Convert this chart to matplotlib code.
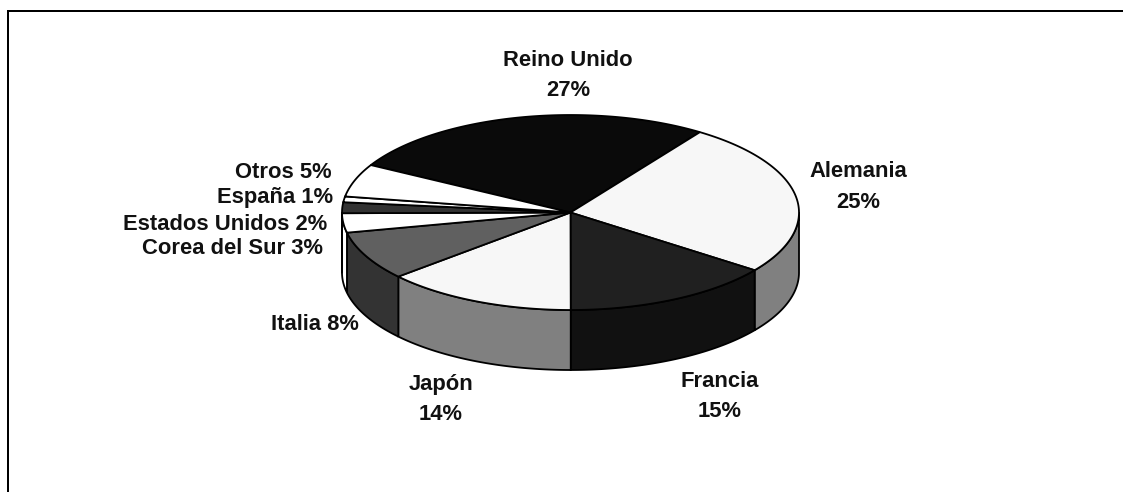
import numpy as np
import matplotlib
matplotlib.use('Agg')
import matplotlib.pyplot as plt
from matplotlib.patches import Polygon

# --- DATA ---
paises = ['Reino Unido', 'Alemania', 'Francia', 'Japón', 'Italia',
          'Corea del Sur', 'Estados Unidos', 'España', 'Otros']
valores = [26.5, 25.5, 14.9, 13.6, 8.1, 3.2, 1.8, 0.95, 5.45]
etiquetas = ['Reino Unido\n27%', 'Alemania\n25%', 'Francia\n15%', 'Japón\n14%', 'Italia 8%',
             'Corea del Sur 3%', 'Estados Unidos 2%', 'España 1%', 'Otros 5%']
colores_top = ['#0a0a0a', '#f7f7f7', '#202020', '#f7f7f7', '#606060',
               '#ffffff', '#333333', '#ffffff', '#ffffff']
colores_lado = ['#0a0a0a', '#808080', '#111111', '#808080', '#333333',
                '#ffffff', '#333333', '#ffffff', '#ffffff']

# label anchors in picture pixels (centre x, centre y)
pos_etiquetas = [(568, 75.5), (858, 187), (720, 396.5), (441, 399.5), (315, 325),
                 (233, 249), (225, 225), (275.5, 198), (283.5, 173)]

# --- LAYOUT (pixels) ---
W, H = 1123, 492
CX, CY = 570.5, 212.5
RX, RY = 228.5, 97.5
DEPTH = 60
START = 150.9  # angle where Reino Unido begins, clockwise from there

fig = plt.figure(figsize=(W / 100, H / 100), dpi=100)
ax = fig.add_axes([0, 0, 1, 1])
ax.set_xlim(0, W)
ax.set_ylim(H, 0)
ax.axis('off')

# chart frame: only left and top sides are inside the picture
ax.plot([8, 8, W], [H, 11, 11], color='black', lw=1.44, solid_joinstyle='miter', zorder=1)


def elipse(th, dy=0):
    th = np.radians(th)
    return np.column_stack([CX + RX * np.cos(th), CY + dy - RY * np.sin(th)])


fracs = np.array(valores) / sum(valores)
fin = START - np.cumsum(fracs) * 360
ini = np.r_[START, fin[:-1]]

# side wall first, only the part of each slice facing the viewer (180..360 deg)
for a, b, col in zip(ini, fin, colores_lado):
    lo, hi = b % 360, (b % 360) + (a - b)
    lo2, hi2 = max(lo, 180), min(hi, 360)
    if hi2 <= lo2:
        continue
    th = np.linspace(lo2, hi2, 80)
    pts = np.vstack([elipse(th), elipse(th[::-1], DEPTH)])
    ax.add_patch(Polygon(pts, closed=True, fc=col, ec='black', lw=1.3, zorder=2))

# top face
for a, b, col in zip(ini, fin, colores_top):
    th = np.linspace(a, b, 120)
    pts = np.vstack([[CX, CY], elipse(th)])
    ax.add_patch(Polygon(pts, closed=True, fc=col, ec='black', lw=1.3, joinstyle='miter', zorder=3))

for txt, (x, y) in zip(etiquetas, pos_etiquetas):
    ax.text(x, y, txt, ha='center', va='center', family='Liberation Sans',
            fontweight='bold', fontsize=15.8, linespacing=1.6, color='#111111', zorder=5)

plt.savefig('out.png', dpi=100)
